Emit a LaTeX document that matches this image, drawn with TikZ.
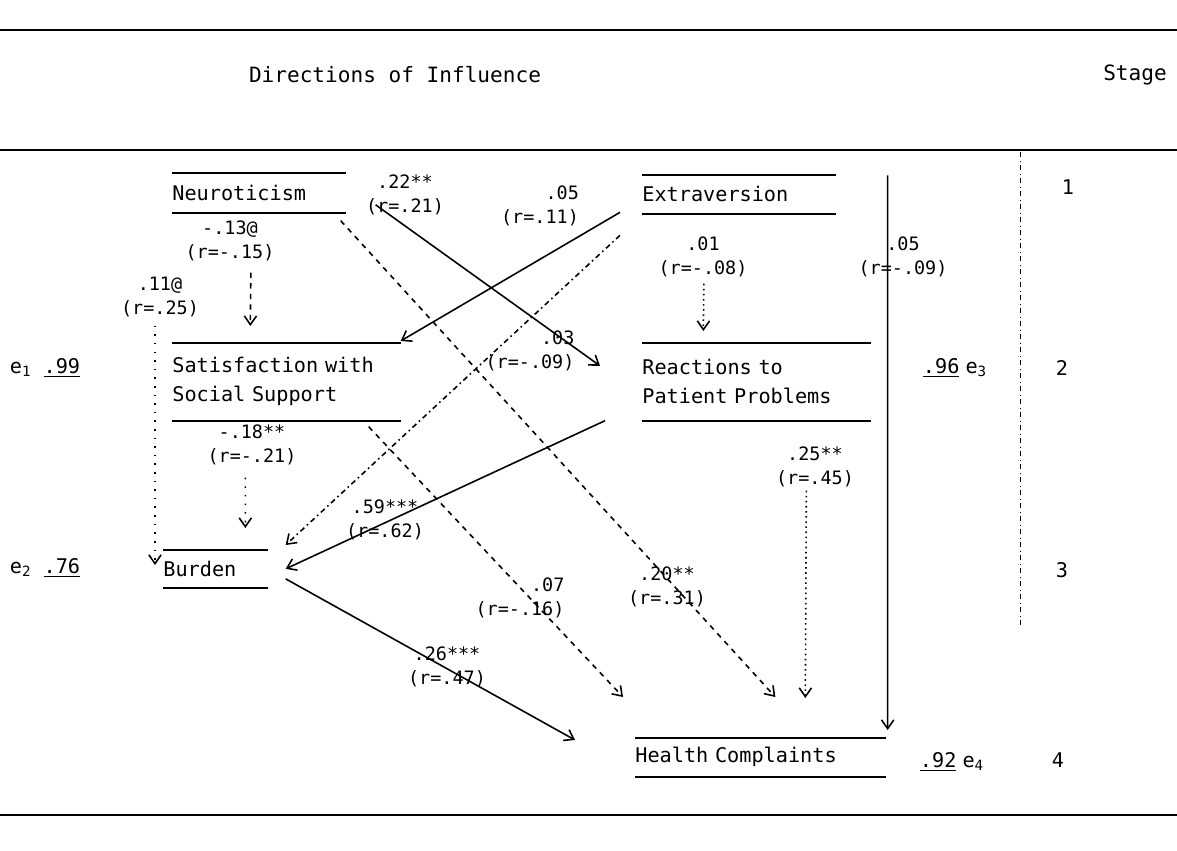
\documentclass[tikz,border=0pt]{standalone}
\usepackage{fontspec}
\setmainfont{DejaVu Sans Mono}
\usetikzlibrary{arrows.meta}
\newcommand\varfont{\fontsize{11.5}{16.5}\selectfont}
\newcommand\coeffont{\fontsize{10.5}{14}\selectfont}

\begin{document}
\begin{tikzpicture}[x=0.02cm, y=-0.02cm, >={Straight Barb[length=5pt,width=7pt]},
  var/.style={anchor=north west, inner sep=0pt, align=left, font=\varfont},
  coef/.style={align=center, inner sep=0pt, font=\coeffont},
  link/.style={->, line width=0.9pt}]
  \useasboundingbox (0,0) rectangle (1177,851);

  % table rules and headings
  \draw[line width=1pt] (0,30) -- (1177,30);
  \draw[line width=1.1pt] (0,150) -- (1177,150);
  \draw[line width=1pt] (0,815) -- (1177,815);
  \node[font=\fontsize{12}{14}\selectfont] (head) at (395,75) {Directions of Influence};
  \node[font=\fontsize{12}{14}\selectfont] (stage) at (1135,75) {Stage};
  \draw[dash dot] (1020,152) -- (1020,625);
  \node[font=\varfont] (s1) at (1068,187) {1};
  \node[font=\varfont] (s2) at (1062,368) {2};
  \node[font=\varfont] (s3) at (1062,570) {3};
  \node[font=\varfont] (s4) at (1058,760) {4};

  % variables
  \node[var, text width=3.46cm, minimum height=0.78cm] (neur) at (172,173) {Neuroticism};
  \node[var, text width=3.86cm, minimum height=0.76cm] (extr) at (642,175) {Extraversion};
  \node[var, text width=4.56cm, minimum height=1.54cm] (sat) at (172,343) {Satisfaction with\\Social Support};
  \node[var, text width=4.56cm, minimum height=1.54cm] (react) at (642,343) {Reactions to\\Patient Problems};
  \node[var, text width=2.08cm, minimum height=0.74cm] (burd) at (163,550) {Burden};
  \node[var, text width=5.00cm, minimum height=0.76cm] (health) at (635,738) {Health Complaints};
  \foreach \n in {neur,extr,sat,react,burd,health}
    \draw[line width=1.2pt] (\n.north west) -- (\n.north east) (\n.south west) -- (\n.south east);

  % residuals
  \node[font=\varfont] (e1) at (45,368) {e\textsubscript{1}\hspace{0.6em}\underline{.99}};
  \node[font=\varfont] (e2) at (45,568) {e\textsubscript{2}\hspace{0.6em}\underline{.76}};
  \node[font=\varfont] (e3) at (955,368) {\underline{.96}\hspace{0.3em}e\textsubscript{3}};
  \node[font=\varfont] (e4) at (952,762) {\underline{.92}\hspace{0.3em}e\textsubscript{4}};

  % paths
  \draw[link, dashed] ([shift={(-8,60)}]neur.south) -- ([shift={(-36,-17)}]sat.north);
  \node[coef] (c1) at (230,241) {-.13@\\(r=-.15)};

  \draw[link, loosely dotted] ([shift={(-17,113)}]neur.south west) -- ([shift={(-8,15)}]burd.north west);
  \node[coef] (c2) at (160,297) {.11@\\(r=.25)};

  \draw[link] ([shift={(30,12)}]neur.east) -- ([shift={(-42,-16)}]react.west);
  \node[coef] (c3) at (405,195) {.22**\\(r=.21)};

  \draw[link] ([shift={(-22,18)}]extr.west) -- ([shift={(0,-2)}]sat.north east);
  \node[coef, align=right] (c4) at (540,206) {.05\\(r=.11)};

  \draw[link, dash dot] ([shift={(-22,41)}]extr.west) -- ([shift={(18,-5)}]burd.north east);
  \node[coef, align=right] (c5) at (530,351) {.03\\(r=-.09)};

  \draw[link, dashed] ([shift={(-5,8)}]neur.south east) -- ([shift={(15,-41)}]health.north);
  \node[coef] (c6) at (667,587) {.20**\\(r=.31)};

  \draw[link, dashed] ([shift={(-32,6)}]sat.south east) -- ([shift={(-12,-41)}]health.north west);
  \node[coef, align=right] (c7) at (520,598) {.07\\(r=-.16)};

  \draw[link, dotted] ([shift={(50,70)}]react.south) -- ([shift={(45,-40)}]health.north);
  \node[coef] (c8) at (815,467) {.25**\\(r=.45)};

  \draw[link] ([shift={(52,-19)}]extr.east) -- ([shift={(2,-8)}]health.north east);
  \node[coef] (c9) at (903,257) {.05\\(r=-.09)};

  \draw[link, dotted] ([shift={(-35,70)}]extr.south) -- ([shift={(-53,-12)}]react.north);
  \node[coef] (c10) at (703,257) {.01\\(r=-.08)};

  \draw[link, loosely dotted] ([shift={(-41,57)}]sat.south) -- ([shift={(30,-22)}]burd.north);
  \node[coef] (c11) at (252,445) {-.18**\\(r=-.21)};

  \draw[link] ([shift={(-37,0)}]react.south west) -- ([shift={(18,0)}]burd.east);
  \node[coef] (c12) at (385,520) {.59***\\(r=.62)};

  \draw[link] ([shift={(18,10)}]burd.east) -- ([shift={(-60,2)}]health.north west);
  \node[coef] (c13) at (447,667) {.26***\\(r=.47)};
\end{tikzpicture}
\end{document}
